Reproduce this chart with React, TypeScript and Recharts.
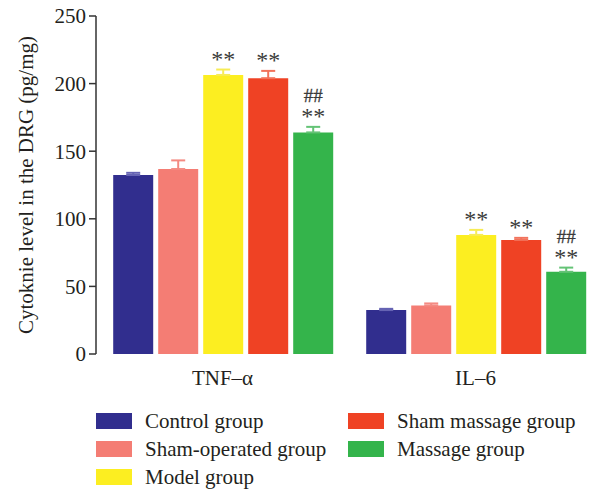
import React from 'react';
import { BarChart, Bar, XAxis, YAxis, ErrorBar, Legend, LabelList } from 'recharts';

document.body.style.margin = '0';

const categories = ['TNF–α', 'IL–6'];
const groups = ['Control group', 'Sham-operated group', 'Model group', 'Sham massage group', 'Massage group'];
const colors = ['#312e8e', '#f47d74', '#fcee21', '#ef4224', '#34b44b'];
const errColors = ['#6563b3', '#f48a82', '#f7ec55', '#f2735c', '#64c376'];

const controlVals = [132.4, 32.5];
const shamOperatedVals = [136.8, 35.9];
const modelVals = [206.4, 88.1];
const shamMassageVals = [204.0, 84.4];
const massageVals = [163.9, 60.8];

const controlErr = [1.6, 0.9];
const shamOperatedErr = [6.4, 1.5];
const modelErr = [4.0, 3.7];
const shamMassageErr = [5.4, 1.5];
const massageErr = [4.1, 3.1];

// significance marks above each bar
const stars = [['', ''], ['', ''], ['**', '**'], ['**', '**'], ['**', '**']];
const hashes = [['', ''], ['', ''], ['', ''], ['', ''], ['##', '##']];

const yTicks = [0, 50, 100, 150, 200, 250];

const vals = [controlVals, shamOperatedVals, modelVals, shamMassageVals, massageVals];
const errs = [controlErr, shamOperatedErr, modelErr, shamMassageErr, massageErr];

const data = categories.map((name, i) => {
  const row: any = { name };
  vals.forEach((v, s) => {
    row['g' + s] = v[i];
    row['e' + s] = [0, errs[s][i]];
  });
  return row;
});

const FONT = '"Liberation Serif", "Times New Roman", serif';
const INK = '#231f20';
const MARK = '#3a3a3a';

const renderMarks = (s: number) => (props: any) => {
  const vb = props.viewBox || {};
  const x = props.x ?? vb.x;
  const y = props.y ?? vb.y;
  const width = props.width ?? vb.width;
  const height = props.height ?? vb.height;
  const index = props.index;
  const star = stars[s][index];
  const hash = hashes[s][index];
  if (!star && !hash) return null;
  const value = vals[s][index];
  const capY = y - (errs[s][index] * height) / value;
  const cx = x + width / 2;
  return (
    <g>
      {star &&
        star.split('').map((c, k) => (
          <text
            key={k}
            x={cx + (k === 0 ? -6 : 6)}
            y={capY - 3}
            textAnchor="middle"
            fontFamily={FONT}
            fontSize={24}
            fill={MARK}
          >
            {c}
          </text>
        ))}
      {hash && (
        <text
          x={cx}
          y={capY - 25}
          textAnchor="middle"
          fontFamily={FONT}
          fontSize={19}
          fill={MARK}
          stroke={MARK}
          strokeWidth={0.3}
        >
          {hash}
        </text>
      )}
    </g>
  );
};

const renderLegend = () => (
  <div
    style={{
      display: 'grid',
      gridAutoFlow: 'column',
      gridTemplateRows: 'repeat(3, 28px)',
      gridTemplateColumns: '252px 250px',
      paddingLeft: 96,
      fontFamily: FONT,
      fontSize: 21,
      color: INK,
    }}
  >
    {groups.map((g, s) => (
      <div key={g} style={{ display: 'flex', alignItems: 'center', whiteSpace: 'nowrap' }}>
        <span style={{ display: 'inline-block', width: 36, height: 16, background: colors[s], marginRight: 13 }} />
        <span>{g}</span>
      </div>
    ))}
  </div>
);

export default function App() {
  return (
    <div style={{ width: 606, height: 489, background: '#fff' }}>
      <BarChart
        width={606}
        height={489}
        data={data}
        margin={{ top: 16, right: 4, left: 0, bottom: 95 }}
        barCategoryGap="6.8%"
        barGap={5}
      >
        <XAxis
          xAxisId="t"
          type="number"
          domain={[0, 2]}
          ticks={[0, 1, 2]}
          height={0}
          axisLine={{ stroke: '#333', strokeWidth: 1.5 }}
          tickLine={{ stroke: '#333', strokeWidth: 1.5 }}
          tickSize={7}
          tickFormatter={() => ''}
        />
        <XAxis
          dataKey="name"
          height={40}
          axisLine={false}
          tickLine={false}
          tickSize={6}
          tickMargin={10}
          tick={{ fill: INK, fontSize: 21, fontFamily: FONT }}
        />
        <YAxis
          width={96}
          domain={[0, 250]}
          ticks={yTicks}
          axisLine={{ stroke: '#333', strokeWidth: 1.5 }}
          tickLine={{ stroke: '#333', strokeWidth: 1.5 }}
          tickSize={7}
          tickMargin={3}
          tick={{ fill: INK, fontSize: 21, fontFamily: FONT }}
          label={{
            content: (p: any) => {
              const vb = p.viewBox || { x: 0, y: 16, height: 338 };
              const cx = 33;
              const cy = vb.y + vb.height / 2;
              return (
                <text
                  x={cx}
                  y={cy}
                  transform={`rotate(-90 ${cx} ${cy})`}
                  textAnchor="middle"
                  fontFamily={FONT}
                  fontSize={21}
                  fill={INK}
                >
                  Cytoknie level in the DRG (pg/mg)
                </text>
              );
            },
          }}
        />
        <Legend
          layout="horizontal"
          verticalAlign="middle"
          align="center"
          content={renderLegend}
          wrapperStyle={{ top: 407, left: 0, width: 606 }}
        />
        {groups.map((g, s) => (
          <Bar key={g} dataKey={'g' + s} name={g} fill={colors[s]} isAnimationActive={false}>
            <ErrorBar dataKey={'e' + s} stroke={errColors[s]} strokeWidth={2} width={7} isAnimationActive={false} />
            <LabelList dataKey={'g' + s} content={renderMarks(s)} />
          </Bar>
        ))}
      </BarChart>
    </div>
  );
}
